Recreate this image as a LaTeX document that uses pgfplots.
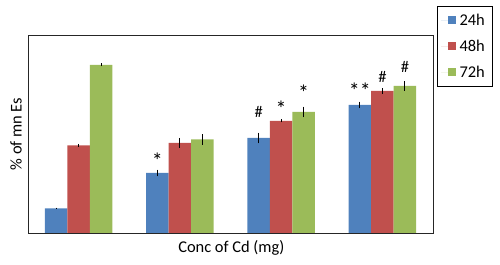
\documentclass[border=0pt]{standalone}
\usepackage{pgfplots}
\pgfplotsset{compat=1.18}
\usepackage{fontspec}
\setmainfont{Carlito}
\definecolor{cblue}{HTML}{4F81BD}
\definecolor{cred}{HTML}{C0504D}
\definecolor{cgreen}{HTML}{9BBB59}
\begin{document}
\begin{tikzpicture}
\path[use as bounding box] (0bp,0bp) rectangle (500bp,265bp);
\begin{axis}[
  at={(28bp,32bp)}, anchor=south west,
  scale only axis, width=405bp, height=198bp,
  xmin=0.5, xmax=4.5, ymin=0, ymax=198,
  xtick=\empty, ytick=\empty,
  ybar=0pt, bar width=22.5bp,
  axis line style={line width=0.8bp, black!85},
  font=\fontsize{16.5}{19}\selectfont,
  xlabel={Conc of Cd (mg)},
  xlabel style={at={(axis description cs:0.502,-0.096)}, anchor=base},
  ylabel={\% of mn Es},
  ylabel style={at={(axis description cs:-0.0156,0.5)}, anchor=base, rotate=0},
  legend style={at={(axis description cs:1.009,1.148)}, anchor=north west,
    draw=black, line width=0.8bp, font=\fontsize{16.5}{19}\selectfont,
    /tikz/row sep=8bp, inner xsep=4bp, inner ysep=5bp,
    nodes={inner xsep=3.5bp, inner ysep=3bp, text height=11bp, text depth=1bp}},
  legend image code/.code={\path (0bp,0bp) -- (15bp,0bp);\fill[#1] (7bp,-4bp) rectangle (15bp,4bp);},
  error bars/error bar style={line width=1bp, black},
  error bars/error mark=none,
]
\addplot[fill=cblue, draw=none, error bars/.cd, y dir=both, y explicit]
  coordinates {(1,24.6) +- (0,0.8) (2,60) +- (0,3.3) (3,95) +- (0,5.3) (4,128) +- (0,3.3)};
\addplot[fill=cred, draw=none, error bars/.cd, y dir=both, y explicit]
  coordinates {(1,87.7) +- (0,1.5) (2,90) +- (0,5) (3,112) +- (0,1.5) (4,142) +- (0,2.7)};
\addplot[fill=cgreen, draw=none, error bars/.cd, y dir=both, y explicit]
  coordinates {(1,168) +- (0,1.5) (2,93.6) +- (0,5.3) (3,121) +- (0,5.3) (4,147) +- (0,4.8)};
\legend{24h,48h,72h}
\begin{scope}[every node/.style={anchor=base, font=\fontsize{22}{24}\selectfont}]
\node at (axis cs:1.778,65) {*};
\node at (axis cs:3,117) {*};
\node at (axis cs:3.222,133) {*};
\node at (axis cs:3.778,135) {**};
\end{scope}
\node[anchor=base] at (axis cs:2.778,115.7) {\#};
\node[anchor=base] at (axis cs:4,150.7) {\#};
\node[anchor=base] at (axis cs:4.222,160.7) {\#};
\end{axis}
\end{tikzpicture}
\end{document}
